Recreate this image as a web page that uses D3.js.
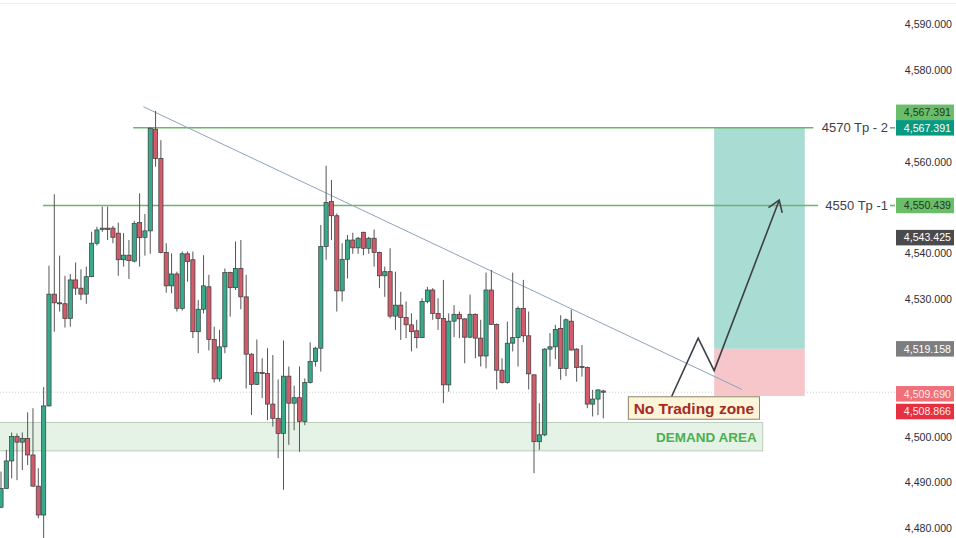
<!DOCTYPE html>
<html><head><meta charset="utf-8">
<script src="https://cdn.jsdelivr.net/npm/d3@7"></script>
<style>body{margin:0;background:#fff}svg{display:block}</style>
</head><body>
<script>
// ---------- DATA ----------
const openP = [4484.6,4488.7,4494.7,4500.0,4498.8,4499.6,4496.0,4489.2,4482.9,4506.7,
4531.1,4529.2,4529.0,4525.8,4534.2,4532.4,4531.1,4534.9,4542.2,4545.2,
4545.5,4545.5,4544.4,4538.6,4539.6,4538.3,4546.7,4543.5,4544.9,4567.1,
4560.7,4540.2,4532.9,4535.5,4528.0,4539.9,4538.6,4522.9,4527.8,4532.7,
4521.2,4512.6,4519.6,4535.8,4532.5,4536.7,4530.5,4518.0,4511.4,4514.0,
4513.8,4507.1,4504.0,4500.7,4513.2,4507.3,4508.5,4503.3,4511.8,4516.4,
4519.3,4541.5,4551.3,4548.2,4531.8,4538.7,4542.9,4541.2,4544.6,4541.1,
4543.3,4540.2,4535.1,4536.0,4526.3,4528.7,4526.0,4524.4,4523.1,4521.6,
4529.5,4532.0,4526.9,4525.8,4511.3,4525.2,4526.7,4525.7,4521.7,4526.7,
4521.5,4517.6,4532.0,4524.5,4514.5,4511.8,4520.4,4521.6,4528.0,4522.0,
4513.5,4498.9,4500.4,4519.1,4519.6,4523.6,4514.9,4525.2,4519.1,4515.3,
4515.1,4507.1,4508.2,4509.97];
const closeP = [4488.7,4494.7,4500.0,4498.8,4499.6,4496.0,4489.2,4482.9,4506.7,4531.1,
4529.2,4529.0,4525.8,4534.2,4532.4,4531.1,4534.9,4542.2,4545.1,4545.5,
4545.2,4543.5,4538.6,4539.6,4538.4,4546.5,4543.4,4544.9,4567.3,4560.7,
4540.2,4532.9,4535.5,4528.0,4539.9,4538.2,4522.9,4527.8,4532.9,4521.2,
4512.6,4519.6,4535.8,4532.5,4536.7,4530.5,4518.0,4511.4,4514.0,4513.8,
4507.1,4504.0,4500.7,4513.2,4507.3,4508.5,4503.3,4511.8,4516.4,4519.3,
4541.5,4551.1,4548.2,4531.8,4538.7,4542.9,4541.2,4543.3,4541.1,4543.3,
4540.2,4535.1,4536.0,4526.3,4528.7,4526.0,4524.4,4522.9,4521.6,4529.5,
4532.0,4526.9,4525.8,4511.3,4525.2,4526.7,4525.7,4521.7,4526.7,4521.5,
4517.6,4532.0,4524.5,4514.5,4511.8,4520.4,4521.6,4528.0,4522.0,4513.7,
4498.9,4500.4,4519.1,4519.6,4523.4,4514.9,4525.5,4518.9,4515.1,4515.1,
4507.1,4508.2,4510.2,4509.69];
const highP = [4492.4,4497.1,4500.9,4500.7,4500.9,4505.3,4506.2,4493.1,4510.8,4537.3,
4552.9,4539.5,4535.1,4535.5,4538.0,4536.5,4537.1,4544.7,4545.8,4550.2,
4550.2,4546.0,4546.7,4544.4,4542.9,4547.1,4553.1,4548.6,4567.5,4571.1,
4564.7,4542.2,4540.0,4536.0,4540.4,4540.4,4540.4,4529.8,4539.6,4535.3,
4524.0,4523.3,4536.7,4536.0,4542.6,4542.9,4535.3,4518.2,4521.2,4517.1,
4519.3,4517.8,4512.5,4521.0,4515.3,4511.1,4515.3,4512.7,4520.6,4519.6,
4546.2,4559.1,4556.0,4548.7,4542.2,4544.0,4544.5,4543.6,4544.7,4543.6,
4545.2,4540.4,4537.1,4541.1,4536.0,4531.6,4529.5,4526.9,4525.5,4530.2,
4532.7,4532.4,4530.2,4534.2,4526.9,4528.7,4527.3,4525.8,4531.0,4526.9,
4525.5,4535.8,4536.4,4524.7,4517.1,4525.1,4535.8,4528.4,4534.2,4527.3,
4513.5,4507.3,4519.3,4522.6,4524.4,4526.5,4525.8,4527.7,4519.3,4520.0,
4515.3,4510.2,4510.3,4510.2];
const lowP = [4484.4,4488.7,4490.9,4490.5,4492.7,4493.8,4489.1,4482.2,4477.5,4506.6,
4522.9,4527.3,4523.8,4524.0,4530.9,4529.8,4529.0,4534.8,4541.7,4544.7,
4542.9,4542.2,4535.1,4537.1,4534.4,4538.0,4537.1,4539.5,4539.9,4558.9,
4540.0,4531.4,4531.3,4527.3,4527.5,4533.8,4521.5,4518.2,4526.9,4518.8,
4511.8,4512.0,4518.2,4526.2,4532.0,4527.8,4510.5,4504.7,4511.3,4508.4,
4503.6,4502.2,4495.3,4488.4,4498.2,4501.4,4496.7,4502.5,4511.6,4515.3,
4514.2,4538.6,4542.9,4527.3,4529.5,4534.5,4539.9,4539.9,4539.6,4539.9,
4537.1,4532.4,4530.5,4525.8,4523.3,4521.1,4521.5,4518.6,4519.3,4521.5,
4529.1,4525.5,4523.3,4507.3,4509.8,4521.7,4521.5,4516.0,4521.5,4517.1,
4515.3,4514.9,4524.4,4510.3,4511.6,4511.6,4518.6,4515.3,4520.6,4510.3,
4492.0,4497.1,4500.1,4515.3,4516.9,4512.4,4513.2,4518.8,4512.0,4513.1,
4506.2,4504.4,4504.7,4504.0];

const yTicks = [4480,4490,4500,4510,4520,4530,4540,4550,4560,4570,4580,4590];

// annotation levels (bar index / price)
const tpLevels = [
  {label:"4570 Tp - 2", price:4567.391, from:24.8, to:152.4},
  {label:"4550 Tp -1",  price:4550.439, from:7.9,  to:153.3}
];
const trendPts = [[26.7, 4572.0],[139.0, 4510.3]];
const zigzagPts = [[125.8,4508.7],[130.8,4521.5],[133.8,4514.4],[146.0,4551.6]];
const position = {from:133.8, to:150.8, target:4567.391, entry:4519.158, stop:4508.866};
const demand = {from:-0.5, to:142.9, top:4503.1, bottom:4496.9};
const noTrade = {from:117.7, to:142.3, top:4508.7, bottom:4503.8};
const lastPrice = 4509.69;
const priceLabels = [
  {price:4567.391, bg:"#6cbd6a", fg:"#1f3a1f", nudge:-1},
  {price:4567.391, bg:"#089981", fg:"#ffffff", nudge:0},
  {price:4550.439, bg:"#6cbd6a", fg:"#1f3a1f", nudge:0},
  {price:4543.425, bg:"#4a4a4c", fg:"#ffffff", nudge:0},
  {price:4519.158, bg:"#7d7d80", fg:"#ffffff", nudge:0},
  {price:4509.690, bg:"#f0707a", fg:"#ffe9ea", nudge:0.1},
  {price:4508.866, bg:"#e5303f", fg:"#ffe9ea", nudge:1}
];

// ---------- CHART ----------
const W = 956, H = 538;
const svg = d3.select("body").append("svg").attr("width", W).attr("height", H)
  .style("font-family", "'Liberation Sans', Arial, sans-serif");
svg.append("rect").attr("width", W).attr("height", H).attr("fill", "#fff");

const x = d3.scaleLinear().domain([0, 113]).range([1, 603.3]);
const y = d3.scaleLinear().domain([4480, 4590]).range([528.3, 24.2]);
const plotRight = 895;

svg.append("defs").append("clipPath").attr("id","clip")
  .append("rect").attr("x",0).attr("y",0).attr("width",plotRight).attr("height",H);
const g = svg.append("g").attr("clip-path","url(#clip)");

// top faint border
svg.append("line").attr("x1",0).attr("x2",W).attr("y1",3.5).attr("y2",3.5)
  .attr("stroke","#eeeeee").attr("stroke-width",1);

// demand area
g.append("rect")
  .attr("x", x(demand.from)).attr("y", y(demand.top))
  .attr("width", x(demand.to)-x(demand.from)).attr("height", y(demand.bottom)-y(demand.top))
  .attr("fill","#e4f3e5").attr("stroke","#bcccbc").attr("stroke-width",1);
g.append("text").attr("x", x(demand.to)-6).attr("y", (y(demand.top)+y(demand.bottom))/2+5)
  .attr("text-anchor","end").attr("font-size",13.5).attr("font-weight","bold")
  .attr("fill","#4caf50").text("DEMAND AREA");

// last price dotted line
g.append("line").attr("x1",0).attr("x2",plotRight).attr("y1",y(lastPrice)).attr("y2",y(lastPrice))
  .attr("stroke","#cfcfcf").attr("stroke-width",1).attr("stroke-dasharray","1,2");

// position tool
g.append("rect").attr("x",x(position.from)).attr("y",y(position.target))
  .attr("width",x(position.to)-x(position.from)).attr("height",y(position.entry)-y(position.target))
  .attr("fill","#a9dcd3");
g.append("rect").attr("x",x(position.from)).attr("y",y(position.entry))
  .attr("width",x(position.to)-x(position.from)).attr("height",y(position.stop)-y(position.entry))
  .attr("fill","#f7c6cb");

// TP lines
tpLevels.forEach(l => {
  g.append("line").attr("x1",x(l.from)).attr("x2",x(l.to)).attr("y1",y(l.price)).attr("y2",y(l.price))
    .attr("stroke","#6cb56a").attr("stroke-width",1.6);
  g.append("text").attr("x",888).attr("y",y(l.price)+4.5).attr("text-anchor","end")
    .attr("font-size",13).attr("fill","#3e4147").text(l.label);
  g.append("line").attr("x1",890).attr("x2",895).attr("y1",y(l.price)).attr("y2",y(l.price))
    .attr("stroke","#6cb56a").attr("stroke-width",1.6);
});

// trend line
g.append("line").attr("x1",x(trendPts[0][0])).attr("y1",y(trendPts[0][1]))
  .attr("x2",x(trendPts[1][0])).attr("y2",y(trendPts[1][1]))
  .attr("stroke","#8fa3bb").attr("stroke-width",1);

// candles
const idx = d3.range(openP.length);
const bw = 4.2;
const cg = g.append("g");
cg.selectAll("line.wick").data(idx).join("line").attr("class","wick")
  .attr("x1",i=>x(i)).attr("x2",i=>x(i)).attr("y1",i=>y(highP[i])).attr("y2",i=>y(lowP[i]))
  .attr("stroke","#555").attr("stroke-width",1);
cg.selectAll("rect.body").data(idx).join("rect").attr("class","body")
  .attr("x",i=>x(i)-bw/2).attr("width",bw)
  .attr("y",i=>y(Math.max(openP[i],closeP[i])))
  .attr("height",i=>Math.max(1,Math.abs(y(openP[i])-y(closeP[i]))))
  .attr("fill",i=>closeP[i]>=openP[i] ? "#38a98a" : "#cf5b6b")
  .attr("stroke","#3a3a3a").attr("stroke-width",0.7);

// zigzag arrow
const zz = d3.line().x(d=>x(d[0])).y(d=>y(d[1]));
g.append("path").attr("d", zz(zigzagPts)).attr("fill","none")
  .attr("stroke","#3d4047").attr("stroke-width",1.6).attr("stroke-linejoin","miter");
{
  const a = zigzagPts[zigzagPts.length-2], b = zigzagPts[zigzagPts.length-1];
  const x1=x(a[0]), y1=y(a[1]), x2=x(b[0]), y2=y(b[1]);
  const ang = Math.atan2(y2-y1, x2-x1);
  const L = 13, spread = 0.6;
  const p1 = [x2 - L*Math.cos(ang-spread), y2 - L*Math.sin(ang-spread)];
  const p2 = [x2 - L*Math.cos(ang+spread), y2 - L*Math.sin(ang+spread)];
  g.append("path").attr("d", `M${p1[0]},${p1[1]}L${x2},${y2}L${p2[0]},${p2[1]}`)
    .attr("fill","none").attr("stroke","#3d4047").attr("stroke-width",1.6);
}

// No trading zone
g.append("rect").attr("x",x(noTrade.from)).attr("y",y(noTrade.top))
  .attr("width",x(noTrade.to)-x(noTrade.from)).attr("height",y(noTrade.bottom)-y(noTrade.top))
  .attr("fill","#fdf5d9").attr("stroke","#8c8466").attr("stroke-width",1);
g.append("text").attr("x",(x(noTrade.from)+x(noTrade.to))/2).attr("y",(y(noTrade.top)+y(noTrade.bottom))/2+5.5)
  .attr("text-anchor","middle").attr("font-size",15.5).attr("font-weight","bold")
  .attr("fill","#a52a24").text("No Trading zone");

// price label boxes (layout first, so covered ticks can be hidden)
const fmt = d3.format(",.3f");
const bh = 15.5;
const boxes = priceLabels.map(p => ({...p, cy: y(p.price) + p.nudge*bh}));

// Y axis tick labels (hidden where a price label box covers them, as on the reference)
const visibleTicks = yTicks.filter(t => boxes.every(b => Math.abs(y(t) - b.cy) > bh/2 + 4));
svg.append("g").selectAll("text").data(visibleTicks).join("text")
  .attr("x",952).attr("y",d=>y(d)+4).attr("text-anchor","end")
  .attr("font-size",10.6).attr("fill","#2a2e39").text(d=>fmt(d));

const lg = svg.append("g");
boxes.forEach(p => {
  lg.append("rect").attr("x",896).attr("y",p.cy-bh/2).attr("width",58).attr("height",bh)
    .attr("fill",p.bg);
  lg.append("text").attr("x",951).attr("y",p.cy+3.8).attr("text-anchor","end")
    .attr("font-size",10.6).attr("fill",p.fg).text(fmt(p.price));
});
</script>
</body></html>
